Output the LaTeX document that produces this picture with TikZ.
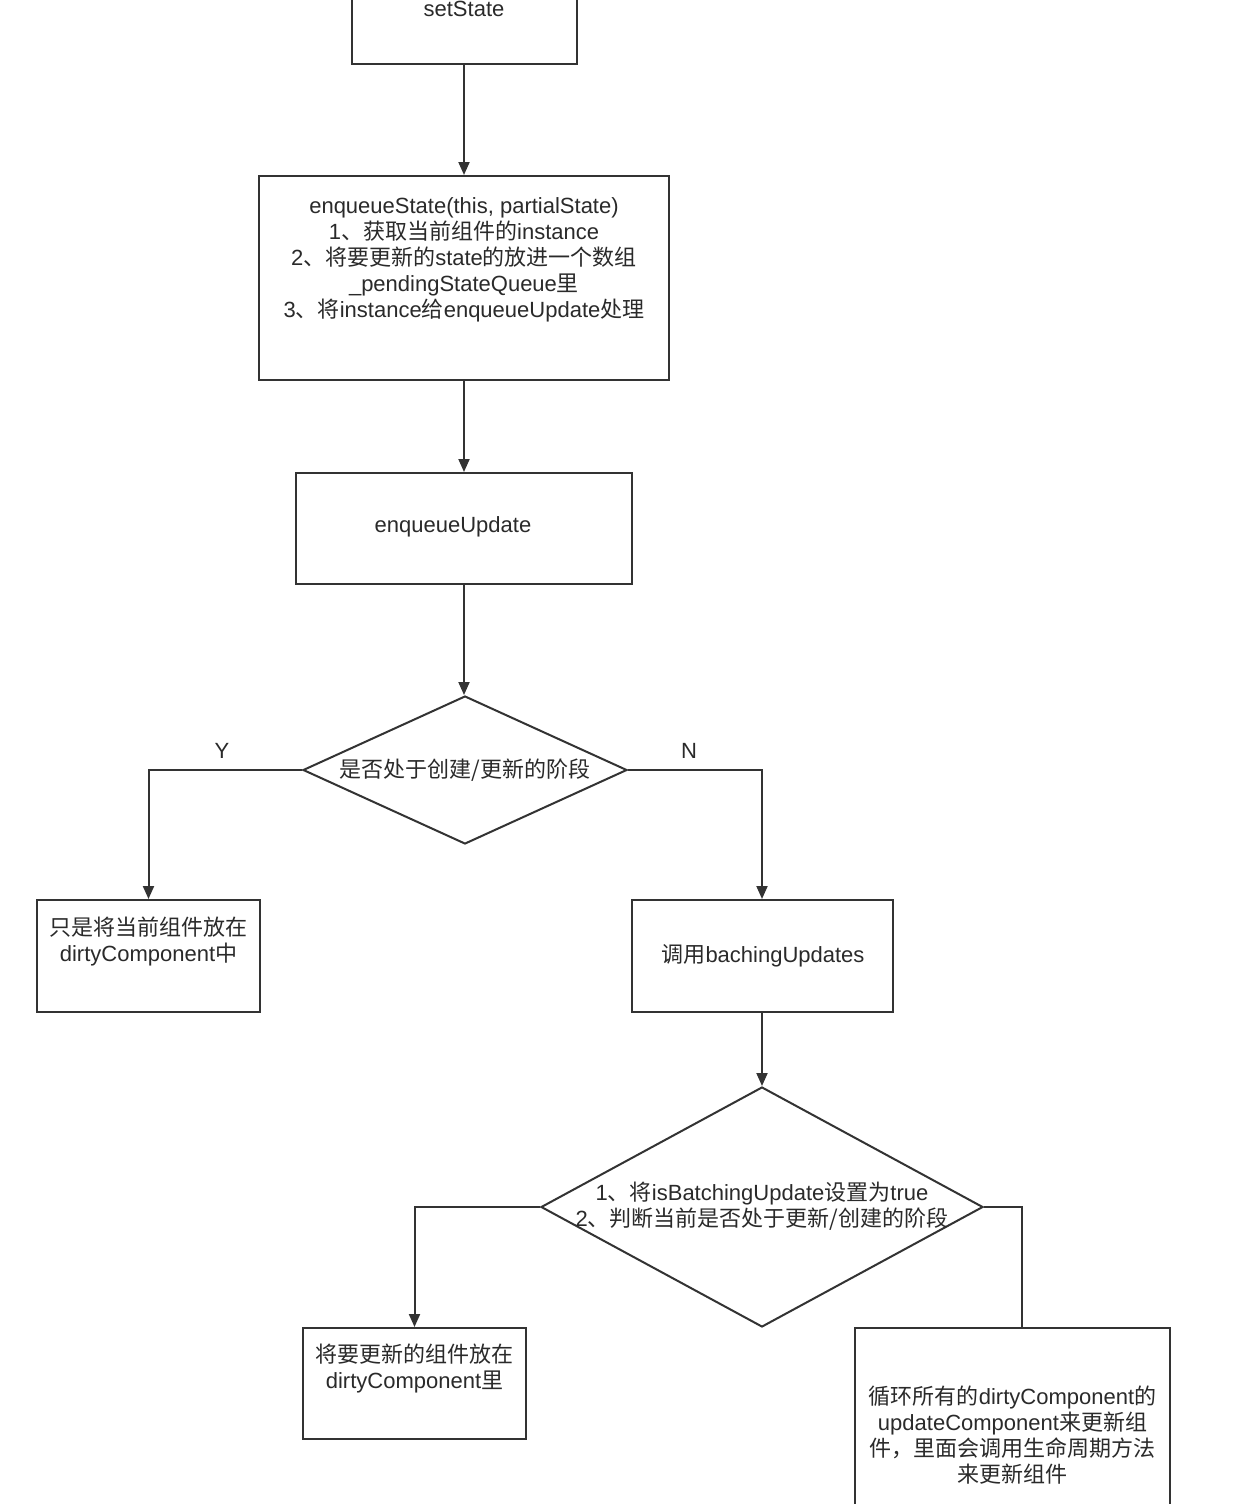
\documentclass[tikz,border=0pt]{standalone}
\usepackage{fontspec}
\setmainfont{Liberation Sans}
\newfontfamily\cjk{Noto Sans CJK SC}
\usetikzlibrary{shapes.geometric,arrows.meta}
\newcommand\zh[1]{{\cjk #1}}
\definecolor{ink}{HTML}{333333}
\definecolor{tink}{HTML}{2A2A2A}
\tikzset{
  box/.style={draw=ink, line width=2pt, rectangle, inner sep=0pt},
  dia/.style={draw=ink, line width=2pt, diamond, inner sep=0pt},
  txt/.style={text=tink, align=center, inner sep=0pt, font=\fontsize{22}{26}\selectfont},
  arr/.style={draw=ink, line width=2pt, -{Triangle[length=13pt,width=11pt]}},
  plain/.style={draw=ink, line width=2pt},
}
\begin{document}
\begin{tikzpicture}[x=1pt,y=-1pt]
\useasboundingbox (0,0) rectangle (1238,1504);
\clip (0,0) rectangle (1238,1504);
\fill[white] (0,0) rectangle (1238,1504);
% boxes
\node[box, minimum width=225pt, minimum height=112pt] (ss) at (464,8) {};
\node[txt] (sst) at (464,9) {setState};
\node[box, minimum width=410pt, minimum height=204pt] (es) at (464,278) {};
\node[txt] (est) at (464,260) {enqueueState(this, partialState)\\
1\zh{、获取当前组件的}instance\\
2\zh{、将要更新的}state\zh{的放进一个数组}\\
\_pendingStateQueue\zh{里}\\
3\zh{、将}instance\zh{给}enqueueUpdate\zh{处理}};
\node[box, minimum width=336pt, minimum height=111pt] (eu) at (464,528.5) {};
\node[txt] (eut) at (453,527) {enqueueUpdate};
\node[dia, minimum width=324pt, minimum height=148pt] (d1) at (465,770) {};
\node[txt] (d1t) at (465,770) {\zh{是否处于创建/更新的阶段}};
\node[txt] (ylab) at (222,751) {Y};
\node[txt] (nlab) at (689,751) {N};
\node[box, minimum width=223pt, minimum height=112pt] (yb) at (148.5,956) {};
\node[txt] (ybt) at (148.5,941) {\zh{只是将当前组件放在}\\dirtyComponent\zh{中}};
\node[box, minimum width=261pt, minimum height=112pt] (nb) at (762,956) {};
\node[txt] (nbt) at (763,956) {\zh{调用}bachingUpdates};
\node[dia, minimum width=442pt, minimum height=240pt] (d2) at (762,1207) {};
\node[txt] (d2t) at (762,1206) {1\zh{、将}isBatchingUpdate\zh{设置为}true\\2\zh{、判断当前是否处于更新/创建的阶段}};
\node[box, minimum width=223pt, minimum height=111pt] (lb) at (414.5,1383.5) {};
\node[txt] (lbt) at (414.5,1368) {\zh{将要更新的组件放在}\\dirtyComponent\zh{里}};
\node[box, minimum width=315pt, minimum height=212pt] (rb) at (1012.5,1434) {};
\node[txt] (rbt) at (1012.5,1435) {\zh{循环所有的}dirtyComponent\zh{的}\\updateComponent\zh{来更新组}\\\zh{件，里面会调用生命周期方法}\\\zh{来更新组件}};
% connectors
\draw[arr] (ss.south) -- (es.north);
\draw[arr] (es.south) -- (eu.north);
\draw[arr] (eu.south) -- (eu.south |- d1.north);
\draw[arr] (d1.west) -| (yb.north);
\draw[arr] (d1.east) -| (nb.north);
\draw[arr] (nb.south) -- (d2.north);
\draw[arr] (d2.west) -| (lb.north);
\draw[plain] (d2.east) -| ([xshift=9.5pt]rb.north);
\end{tikzpicture}
\end{document}
